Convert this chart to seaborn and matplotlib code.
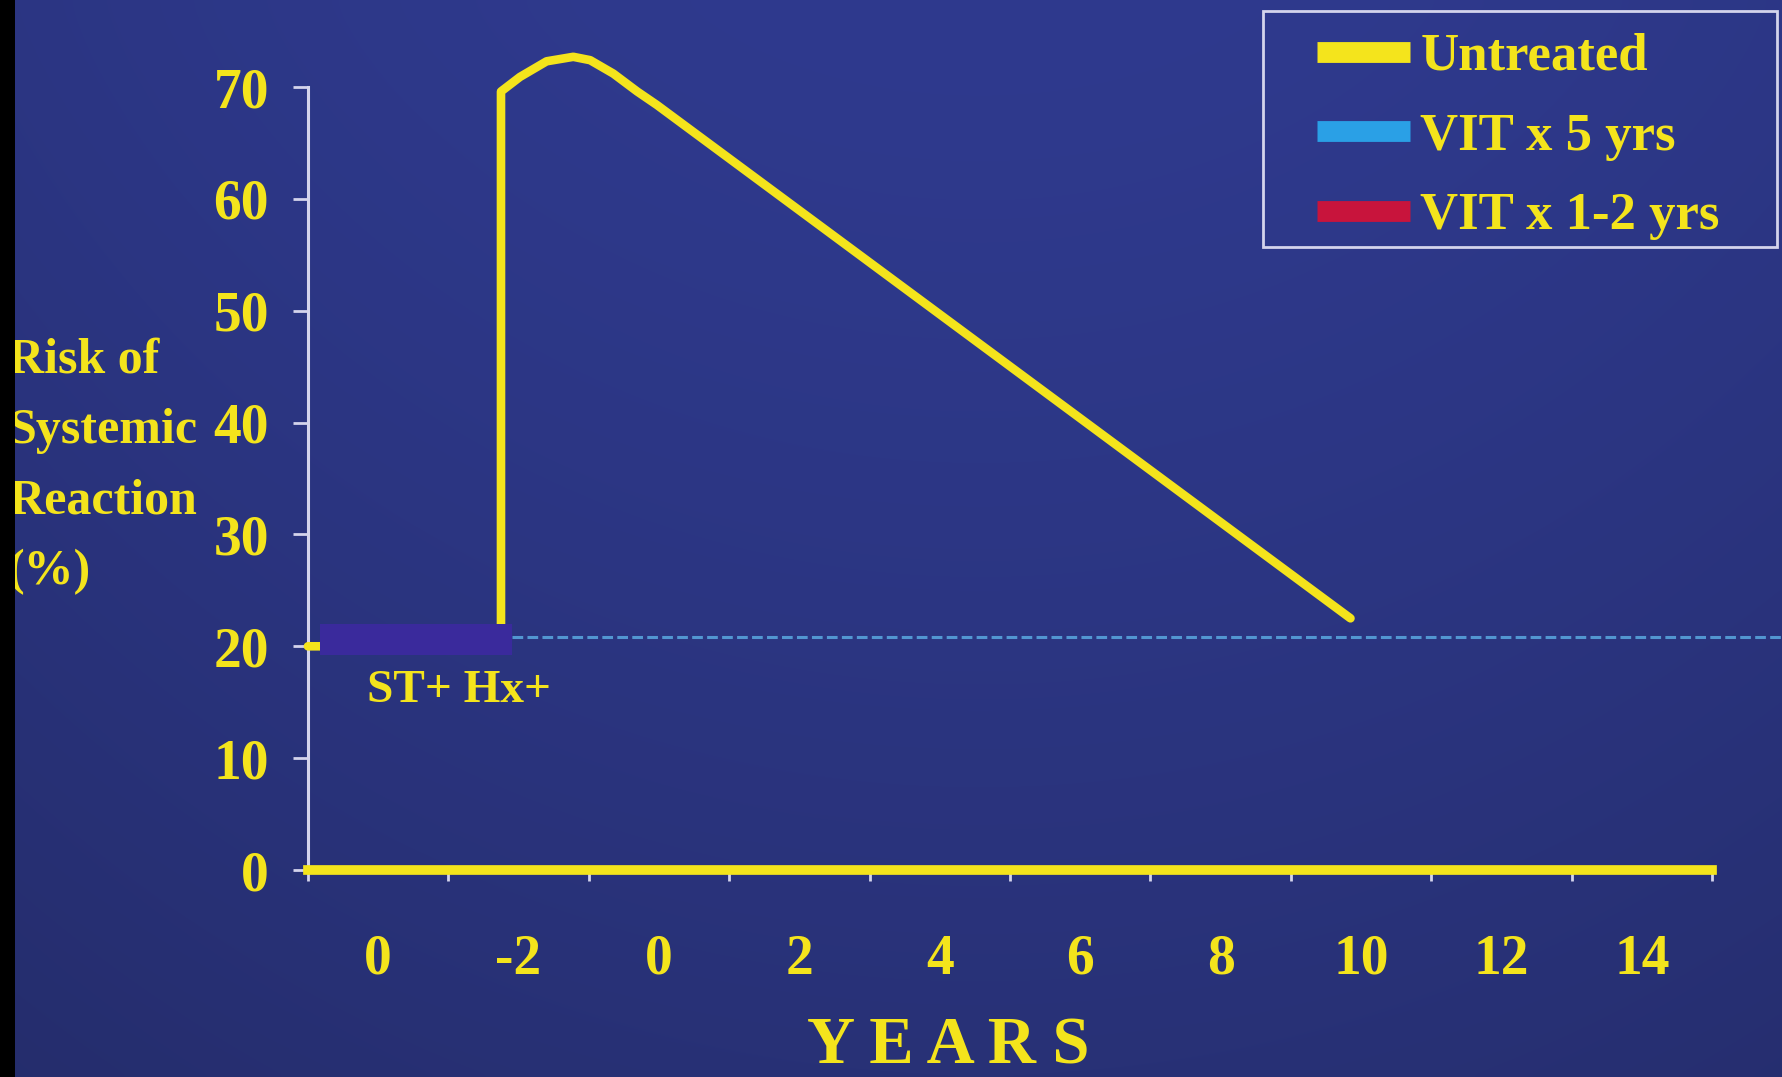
import numpy as np
import matplotlib
matplotlib.use("Agg")
import matplotlib.pyplot as plt
from matplotlib.lines import Line2D
from matplotlib.patches import Rectangle
from matplotlib.font_manager import FontProperties
import seaborn as sns

# Untreated risk curve: years relative to the sting vs. % risk of systemic reaction
untreated_years = [-5.0, -2.25, -2.25, -1.98, -1.6, -1.22, -0.98, -0.65, -0.31, -0.03, 9.85]
untreated_risk = [20.0, 20.0, 69.6, 70.9, 72.3, 72.7, 72.4, 71.2, 69.6, 68.4, 22.5]

# VIT x 5 yrs residual risk level
vit5_years = [-2.1, 16.2]
vit5_risk = [20.8, 20.8]

# Block covering the pre-treatment baseline
mask_years = [-4.83, -2.09]
mask_risk = [19.2, 22.0]

xtick_pos = [-4, -2, 0, 2, 4, 6, 8, 10, 12, 14]
xtick_labels = ["0", "-2", "0", "2", "4", "6", "8", "10", "12", "14"]
ytick_vals = [0, 10, 20, 30, 40, 50, 60, 70]
series_names = ["Untreated", "VIT x 5 yrs", "VIT x 1-2 yrs"]

YELLOW = "#f4e41c"
BLUE = "#2aa0e6"
DASH_BLUE = "#5aa8e0"
RED = "#c8143c"
MASK = "#3a2a9c"
AXIS_LIGHT = "#d4d4ec"

sns.set_style("ticks")
plt.rcParams["font.family"] = ["Liberation Serif", "DejaVu Serif"]
plt.rcParams["font.weight"] = "bold"

fig = plt.figure(figsize=(17.83, 10.77), dpi=100)

# Slide background: deep blue with a soft darkening towards the bottom and sides
bg = fig.add_axes([0, 0, 1, 1], zorder=-10)
h, w = 200, 330
yy, xx = np.mgrid[0:1:h * 1j, 0:1:w * 1j]
top = np.array([47, 58, 142]) / 255
bottom = np.array([40, 49, 118]) / 255
t = (yy ** 1.3)[..., None]
img = top * (1 - t) + bottom * t
vign = 1 - 0.08 * ((xx - 0.55) / 0.55) ** 2
img = np.clip(img * vign[..., None], 0, 1)
bg.imshow(img, aspect="auto", extent=[0, 1, 0, 1], interpolation="bicubic")
bg.axis("off")

ax = fig.add_axes([0.1727, 0.1922, 0.7875, 0.727])
ax.set_facecolor("none")

sns.lineplot(x=untreated_years, y=untreated_risk, sort=False, estimator=None,
             color=YELLOW, lw=6.2, clip_on=False, ax=ax,
             solid_joinstyle="round", solid_capstyle="round", zorder=4)
sns.lineplot(x=vit5_years, y=vit5_risk, sort=False, estimator=None,
             color=DASH_BLUE, lw=2.2, linestyle=(0, (3.5, 1.4)), clip_on=False,
             ax=ax, zorder=3, alpha=0.85)

ax.add_patch(Rectangle((mask_years[0], mask_risk[0]),
                       mask_years[1] - mask_years[0], mask_risk[1] - mask_risk[0],
                       facecolor=MASK, edgecolor="none", zorder=6))

ax.text(-2.85, 16, "ST+ Hx+", ha="center", va="center", fontsize=34,
        color=YELLOW, fontweight="bold")

ax.set_xlim(-5, 15)
ax.set_ylim(0, 70)
ax.set_xticks(xtick_pos)
ax.set_xticklabels(xtick_labels)
ax.set_xticks(np.arange(-5, 16, 2), minor=True)
ax.set_yticks(ytick_vals)
ax.set_xlabel("")
ax.set_ylabel("")

for side in ("top", "right"):
    ax.spines[side].set_visible(False)
ax.spines["left"].set_color(AXIS_LIGHT)
ax.spines["left"].set_linewidth(2.2)
ax.spines["bottom"].set_color(YELLOW)
ax.spines["bottom"].set_linewidth(7)
ax.spines["bottom"].set_zorder(5)

ax.tick_params(axis="y", direction="out", length=11, width=2, color=AXIS_LIGHT,
               pad=17, labelsize=40, labelcolor=YELLOW)
ax.tick_params(axis="x", which="major", length=0, pad=46, labelsize=40,
               labelcolor=YELLOW)
ax.tick_params(axis="x", which="minor", direction="out", length=8, width=2,
               color=AXIS_LIGHT)

fig.text(8 / 1783, 0.567, "Risk of\nSystemic\nReaction\n(%)", ha="left",
         va="center", fontsize=36, color=YELLOW, linespacing=1.7,
         fontweight="bold")
fig.text(0.532, 0.028, "Y E A R S", ha="center", va="center", fontsize=48,
         color=YELLOW, fontweight="bold")

# Legend entries, with a separate frame box around them
handles = [Line2D([0], [0], color=c, lw=15, solid_capstyle="butt")
           for c in (YELLOW, BLUE, RED)]
leg = ax.legend(handles, series_names, loc="upper left",
                bbox_to_anchor=(1317 / 1783, 1 - 33 / 1077),
                bbox_transform=fig.transFigure, borderaxespad=0, borderpad=0,
                prop=FontProperties(family="Liberation Serif", weight="bold",
                                    size=38),
                labelcolor=YELLOW, handlelength=1.76, handletextpad=0.2,
                labelspacing=0.6, frameon=False)
fig.add_artist(Rectangle((1263 / 1783, 1 - 247 / 1077), (1777 - 1263) / 1783,
                         236 / 1077, transform=fig.transFigure,
                         facecolor="none", edgecolor=AXIS_LIGHT, lw=2,
                         zorder=40))

# dark strip along the left edge of the slide
fig.add_artist(Rectangle((0, 0), 15 / 1783, 1, transform=fig.transFigure,
                         facecolor="black", edgecolor="none", zorder=50))

fig.savefig("out.png", dpi=100)
